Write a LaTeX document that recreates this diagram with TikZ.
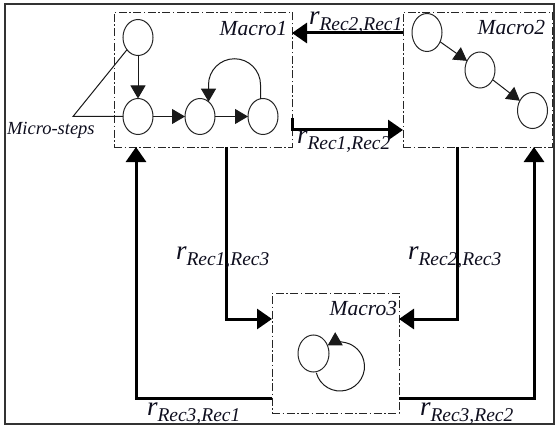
\documentclass[tikz,border=0pt]{standalone}
\usepackage{fontspec}
\setmainfont{Liberation Serif}
\usetikzlibrary{arrows.meta,shapes.geometric,calc}

\definecolor{txt}{RGB}{14,14,30}

% rate label: large italic r with a lowered subscript
\newcommand{\ratelab}[1]{{\fontsize{27}{27}\selectfont r}\raisebox{-6pt}{\fontsize{19.5}{20}\selectfont #1}}

\tikzset{
  macrobox/.style={draw, line width=0.9pt, black!85,
    dash pattern=on 8pt off 2.5pt on 1.5pt off 2.5pt,
    rectangle, inner sep=0pt, outer sep=0pt},
  state/.style={draw, ellipse, line width=1pt, black!85,
    minimum width=30pt, minimum height=36pt, inner sep=0pt, outer sep=0pt},
  micro/.style={line width=1pt, black!90, -{Triangle[length=13pt,width=15pt]}},
  rate/.style={line width=3pt, black, -{Triangle[length=15pt,width=20pt]}},
  lbl/.style={inner sep=0pt, outer sep=0pt, text=txt, font=\itshape},
  macrolbl/.style={lbl, font=\itshape\fontsize{21.5}{21.5}\selectfont, anchor=base east}
}

\begin{document}
\begin{tikzpicture}[x=1pt,y=-1pt]
  \useasboundingbox (0,0) rectangle (555,428);
  \draw[line width=1.5pt, black!80] (5,4) rectangle (554,424);

  % macro-level boxes
  \node[macrobox, minimum width=178pt, minimum height=135pt] (M1) at (203,79.5) {};
  \node[macrobox, minimum width=149pt, minimum height=135pt] (M2) at (477.5,79.5) {};
  \node[macrobox, minimum width=127pt, minimum height=120pt] (M3) at (335.5,353) {};

  \node[macrolbl] (t1) at (287,36) {Macro1};
  \node[macrolbl] (t2) at (545,35) {Macro2};
  \node[macrolbl] (t3) at (397,315) {Macro3};

  % micro-steps inside Macro1
  \node[state] (c1) at (138,37.5) {};
  \node[state] (c2) at (138,116.5) {};
  \node[state] (c3) at (200,116.5) {};
  \node[state] (c4) at (263,116.5) {};
  \draw[micro] (c1) -- (c2);
  \draw[micro] (c2) -- (c3);
  \draw[micro] (c3) -- (c4);
  \draw[micro] (c4.98) -- ++(0,-14) arc[start angle=0, end angle=-180, radius=26] -- (c3.60);

  % callout for the micro-steps
  \coordinate (ms) at (73,116.5);
  \draw[line width=1pt, black!90] (c2.west) -- (ms) -- (c1.228);
  \node[lbl, font=\itshape\fontsize{18.5}{18.5}\selectfont, anchor=base west] (mst) at (7,135) {Micro-steps};

  % micro-steps inside Macro2
  \node[state, minimum height=38pt] (d1) at (427,32.5) {};
  \node[state] (d2) at (480,70) {};
  \node[state] (d3) at (532.5,110.5) {};
  \draw[micro] (d1) -- (d2);
  \draw[micro] (d2) -- (d3);

  % self-loop inside Macro3
  \node[state, minimum width=31pt, minimum height=37pt] (e1) at (313.5,353.5) {};
  \coordinate (lc) at (340,366.5);
  \draw[micro] ([shift={(-195:24.5)}]lc) arc[start angle=-195, end angle=-480, radius=24.5];

  % transitions between macro-steps
  \draw[rate] ([yshift=-21pt]M2.north west) -- ([yshift=-21pt]M1.north east);
  \draw[rate] ([yshift=29pt]M1.south east) -- ([yshift=17pt]M1.south east) -- ([yshift=17pt]M2.south west);
  \draw[rate] ([xshift=-66pt]M1.south east) |- ([yshift=-26pt]M3.north west);
  \draw[rate] ([xshift=-95pt]M2.south east) |- ([yshift=-26pt]M3.north east);
  \draw[rate] ([yshift=15pt]M3.south west) -| ([xshift=22pt]M1.south west);
  \draw[rate] ([yshift=15pt]M3.south east) -| ([xshift=-18pt]M2.south east);

  % rate labels
  \node[lbl, anchor=base west] (l21) at (309,25) {\ratelab{Rec2,Rec1}};
  \node[lbl, anchor=base west] (l12) at (297,143) {\ratelab{Rec1,Rec2}};
  \node[lbl, anchor=base west] (l13) at (176,259) {\ratelab{Rec1,Rec3}};
  \node[lbl, anchor=base west] (l23) at (408,259) {\ratelab{Rec2,Rec3}};
  \node[lbl, anchor=base west] (l31) at (147,415) {\ratelab{Rec3,Rec1}};
  \node[lbl, anchor=base west] (l32) at (420,415) {\ratelab{Rec3,Rec2}};
\end{tikzpicture}
\end{document}
